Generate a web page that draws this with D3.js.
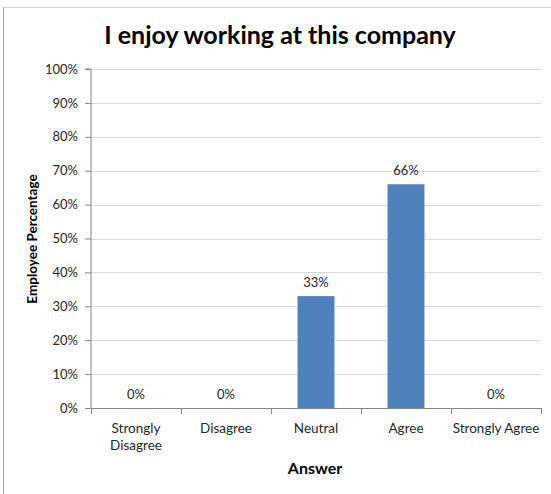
<!DOCTYPE html>
<html>
<head>
<meta charset="utf-8">
<script src="https://cdn.jsdelivr.net/npm/d3@7"></script>
<style>
  html, body { margin: 0; padding: 0; background: #fff; }
  svg { display: block; }
  text { font-family: Lato, "Noto Sans", sans-serif; }
</style>
</head>
<body>
<svg id="chart" width="551" height="494"></svg>
<script>
// Survey responses: share of employees per answer
const categories = ["Strongly Disagree", "Disagree", "Neutral", "Agree", "Strongly Agree"];
const categoryLines = [["Strongly", "Disagree"], ["Disagree"], ["Neutral"], ["Agree"], ["Strongly Agree"]];
const shares = [0, 0, 0.33, 0.66, 0];
const yTicks = [0, 0.1, 0.2, 0.3, 0.4, 0.5, 0.6, 0.7, 0.8, 0.9, 1.0];

const svg = d3.select("#chart");
const W = 551, H = 494;
const plot = { left: 91, right: 541, top: 69, bottom: 408 };

const x = d3.scaleBand().domain(categories).range([plot.left, plot.right]).padding(0);
const y = d3.scaleLinear().domain([0, 1]).range([plot.bottom, plot.top]);
const fmt = d3.format(".0%");
const barFrac = 0.41;

// chart frame
svg.append("line").attr("x1", 3.5).attr("x2", W).attr("y1", 7.5).attr("y2", 7.5)
  .attr("stroke", "#d4d4d4").attr("stroke-width", 1);
svg.append("line").attr("x1", 3.5).attr("x2", 3.5).attr("y1", 7.5).attr("y2", H)
  .attr("stroke", "#a6a6a6").attr("stroke-width", 1);

// title
svg.append("text")
  .attr("x", 280).attr("y", 43.5)
  .attr("text-anchor", "middle")
  .attr("font-size", 25).attr("font-weight", "bold").attr("fill", "#000")
  .text("I enjoy working at this company");

// horizontal gridlines
svg.append("g").selectAll("line").data(yTicks.filter(d => d > 0)).join("line")
  .attr("x1", plot.left).attr("x2", plot.right)
  .attr("y1", d => Math.round(y(d)) + 0.5).attr("y2", d => Math.round(y(d)) + 0.5)
  .attr("stroke", "#d9d9d9").attr("stroke-width", 1);

// y axis
const yAxis = svg.append("g")
  .attr("transform", `translate(${plot.left},0)`)
  .call(d3.axisLeft(y).tickValues(yTicks).tickFormat(fmt).tickSize(6).tickPadding(7));
yAxis.select(".domain").attr("stroke", "#868686").attr("d", `M-6,${plot.top}H0V${plot.bottom}`);
yAxis.selectAll(".tick line").attr("stroke", "#868686");
yAxis.selectAll(".tick text").attr("font-size", 13).attr("fill", "#262626")
  .attr("font-family", "Lato, sans-serif");

// bars
svg.append("g").selectAll("rect").data(shares).join("rect")
  .attr("x", (d, i) => x(categories[i]) + x.bandwidth() * (1 - barFrac) / 2)
  .attr("width", x.bandwidth() * barFrac)
  .attr("y", d => y(d))
  .attr("height", d => y(0) - y(d))
  .attr("fill", "#4f81bd");

// value labels
svg.append("g").selectAll("text").data(shares).join("text")
  .attr("x", (d, i) => x(categories[i]) + x.bandwidth() / 2)
  .attr("y", d => y(d) - 9)
  .attr("text-anchor", "middle")
  .attr("font-size", 13).attr("fill", "#262626")
  .text(d => fmt(d));

// x axis
svg.append("line").attr("x1", plot.left).attr("x2", plot.right)
  .attr("y1", plot.bottom + 0.5).attr("y2", plot.bottom + 0.5)
  .attr("stroke", "#868686");
const bounds = categories.map(c => x(c)).concat([plot.right]);
svg.append("g").selectAll("line").data(bounds).join("line")
  .attr("x1", d => Math.round(d) + 0.5).attr("x2", d => Math.round(d) + 0.5)
  .attr("y1", plot.bottom).attr("y2", plot.bottom + 6)
  .attr("stroke", "#868686");

// category labels
const catG = svg.append("g");
categoryLines.forEach((lines, i) => {
  const cx = x(categories[i]) + x.bandwidth() / 2;
  const t = catG.append("text")
    .attr("x", cx)
    .attr("y", 432.5)
    .attr("text-anchor", "middle")
    .attr("font-size", 13.5).attr("fill", "#262626");
  lines.forEach((ln, j) => {
    t.append("tspan").attr("x", cx).attr("dy", j === 0 ? 0 : 17).text(ln);
  });
});

// axis titles
svg.append("text")
  .attr("x", 315).attr("y", 474)
  .attr("text-anchor", "middle")
  .attr("font-size", 16).attr("font-weight", "bold").attr("fill", "#000")
  .text("Answer");

svg.append("text")
  .attr("transform", "translate(37,239) rotate(-90)")
  .attr("text-anchor", "middle")
  .attr("font-size", 13.5).attr("font-weight", "bold").attr("fill", "#000")
  .text("Employee Percentage");
</script>
</body>
</html>
